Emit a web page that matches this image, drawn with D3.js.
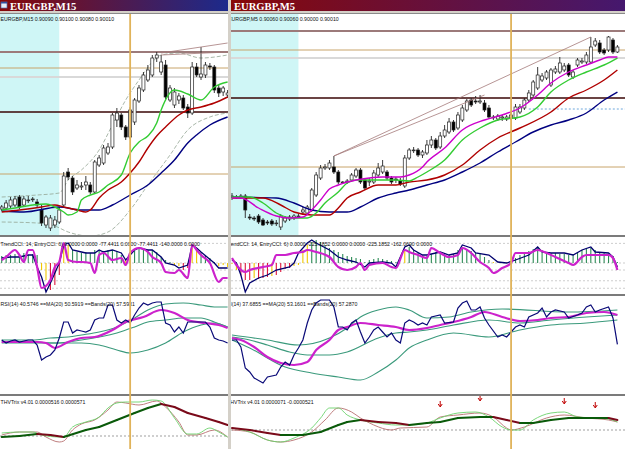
<!DOCTYPE html>
<html><head><meta charset="utf-8">
<script src="https://cdn.jsdelivr.net/npm/d3@7"></script>
<style>body{margin:0;background:#fff}svg{display:block}</style>
</head><body>
<svg id="c" width="625" height="449"></svg>
<script>
// ---------------- DATA ----------------
// candles: [open, high, low, close] in points (price * 1e5)
const m15Candles = [[89991,89995,89989,89993],[89992,90000,89990,89997],[89994,90003,89992,90000],[89995,90004,89993,90001],[90003,90005,89991,89993],[89995,90004,89993,90001],[90000,90004,89997,90000],[90001,90003,89998,90001],[89998,90001,89993,89995],[89990,89995,89974,89977],[89975,89985,89972,89983],[89972,89985,89969,89982],[89975,89984,89972,89980],[89978,89993,89976,89990],[89995,90028,89993,90024],[90028,90032,90020,90023],[90022,90024,90005,90008],[90012,90020,90010,90015],[90013,90018,90010,90014],[90015,90024,90010,90018],[90015,90018,90006,90008],[90008,90040,90006,90038],[90035,90045,90033,90042],[90037,90055,90035,90052],[90047,90057,90045,90053],[90053,90087,90051,90085],[90080,90092,90073,90087],[90085,90087,90070,90073],[90073,90075,90060,90063],[90063,90093,90061,90090],[90078,90102,90075,90100],[90099,90115,90097,90112],[90110,90128,90108,90125],[90120,90135,90118,90130],[90125,90145,90123,90142],[90142,90148,90138,90145],[90128,90145,90125,90138],[90135,90140,90101,90103],[90100,90115,90098,90112],[90095,90112,90092,90108],[90100,90107,90096,90104],[90102,90105,90090,90092],[90093,90096,90082,90087],[90087,90138,90085,90133],[90133,90137,90123,90125],[90123,90153,90120,90126],[90125,90138,90122,90135],[90134,90137,90130,90133],[90133,90135,90107,90110],[90112,90115,90103,90107],[90108,90114,90104,90112],[90105,90110,90102,90107]];
const m5Candles = [[89903,89907,89900,89904],[89903,89905,89901,89903],[89903,89906,89901,89904],[89904,89906,89882,89890],[89883,89886,89880,89882],[89882,89884,89879,89881],[89884,89886,89876,89878],[89880,89882,89874,89875],[89878,89880,89875,89877],[89879,89881,89874,89876],[89877,89880,89874,89877],[89873,89886,89870,89884],[89879,89884,89877,89882],[89881,89885,89879,89883],[89882,89886,89880,89884],[89884,89886,89882,89884],[89888,89893,89886,89890],[89887,89895,89885,89893],[89890,89912,89888,89910],[89905,89928,89903,89925],[89922,89935,89920,89932],[89932,89936,89930,89933],[89932,89940,89930,89937],[89933,89944,89926,89928],[89928,89930,89916,89918],[89918,89919,89917,89918],[89918,89921,89916,89919],[89920,89927,89918,89925],[89924,89932,89922,89930],[89930,89932,89916,89918],[89920,89922,89910,89912],[89918,89922,89914,89919],[89918,89930,89916,89927],[89925,89937,89923,89932],[89928,89940,89926,89934],[89928,89930,89920,89922],[89922,89924,89916,89918],[89921,89923,89917,89920],[89919,89922,89914,89916],[89914,89945,89912,89942],[89942,89952,89940,89950],[89950,89953,89947,89950],[89950,89952,89943,89945],[89945,89950,89942,89948],[89947,89960,89945,89955],[89955,89964,89952,89960],[89960,89962,89950,89952],[89953,89968,89951,89964],[89964,89975,89962,89970],[89968,89982,89966,89978],[89978,89980,89968,89970],[89972,89988,89970,89985],[89980,89995,89978,89992],[89990,90001,89988,89999],[90000,90002,89993,89995],[89999,90004,89996,89998],[89998,90005,89996,89999],[89997,90000,89988,89990],[89992,89995,89981,89983],[89983,89985,89980,89983],[89981,89986,89979,89984],[89982,89985,89979,89983],[89981,89985,89979,89983],[89982,89988,89980,89985],[89982,89996,89980,89993],[89988,89996,89986,89993],[89992,90002,89990,90000],[90000,90010,89998,90007],[90005,90020,90003,90018],[90012,90033,90010,90025],[90020,90027,90018,90024],[90022,90030,90020,90028],[90015,90032,90013,90030],[90028,90034,90026,90031],[90028,90043,90026,90037],[90030,90037,90028,90034],[90035,90037,90023,90025],[90023,90030,90021,90028],[90035,90042,90033,90040],[90038,90042,90036,90039],[90038,90048,90036,90045],[90038,90063,90036,90053],[90055,90062,90053,90059],[90057,90060,90046,90048],[90050,90052,90045,90047],[90050,90064,90048,90063],[90060,90062,90046,90048],[90048,90055,90047,90053]];

const levelKinds = ["high","upper","mid","low","lower"];
const m15Levels = [90148, 90132, 90123, 90088, 90026];
const m5Levels = [90069, 90050, 90042, 90002, 89933];
const m5DottedLevel = [67, 89991];

const m15Green = [[0,89990],[3,89992],[7,89995],[10,89996],[12,89993],[14,89988],[15,89985],[17,89988],[18,90000],[20,90005],[22,90008],[24,90015],[27,90025],[29,90047],[31,90058],[33,90064],[35,90077],[36,90090],[39,90110],[42,90106],[45,90100],[48,90113],[51,90118]];
const m15Red = [[0,89988],[4,89990],[9,89993],[12,89995],[14,89993],[17,89990],[19,89988],[20,89990],[22,90002],[24,90010],[27,90018],[29,90027],[31,90038],[33,90052],[35,90064],[37,90073],[40,90085],[42,90090],[45,90093],[48,90097],[51,90103]];
const m15Navy = [[0,89989],[5,89988],[13,89993],[18,89990],[22,89990],[25,89995],[29,90005],[33,90015],[36,90027],[39,90040],[42,90057],[44,90065],[47,90075],[51,90083]];
const m15UpperBand = [[0,90003],[8,90005],[13,90007],[15,90020],[18,90030],[22,90050],[25,90075],[28,90100],[31,90120],[34,90138],[36,90145],[40,90147],[45,90142],[51,90145]];
const m15LowerBand = [[0,89978],[8,89977],[12,89974],[15,89968],[20,89964],[24,89968],[29,89990],[33,90015],[38,90045],[42,90070],[47,90083],[51,90087]];
const m15Trend = [[[36,90147],[51,90157]],[[36,90145],[51,90148]]];

const m5Magenta = [[0,89902],[2,89902],[6,89892],[10,89884],[13,89882],[16,89883],[18,89890],[20,89900],[22,89911],[24,89915],[28,89920],[31,89922],[34,89923],[38,89923],[40,89925],[43,89933],[44,89938],[48,89952],[52,89970],[57,89980],[61,89985],[65,89992],[69,90005],[72,90017],[76,90028],[80,90035],[83,90040],[85,90043],[87,90043]];
const m5Green = [[0,89903],[4,89903],[7,89897],[10,89887],[14,89882],[17,89882],[19,89887],[21,89897],[24,89908],[26,89917],[28,89920],[31,89920],[34,89920],[37,89920],[40,89919],[42,89923],[44,89928],[48,89940],[52,89960],[56,89972],[60,89980],[65,89983],[69,89993],[72,90008],[76,90020],[80,90028],[84,90035],[87,90042]];
const m5Red = [[0,89902],[7,89902],[11,89895],[14,89888],[18,89885],[22,89885],[24,89892],[26,89902],[29,89908],[33,89915],[37,89915],[40,89918],[44,89920],[48,89925],[52,89935],[56,89950],[60,89962],[65,89972],[72,89988],[76,90002],[80,90010],[84,90020],[87,90030]];
const m5Navy = [[0,89903],[10,89902],[14,89897],[18,89890],[22,89888],[26,89888],[29,89893],[33,89902],[37,89907],[40,89910],[44,89915],[48,89920],[52,89928],[56,89937],[60,89948],[64,89958],[68,89968],[72,89975],[76,89980],[80,89987],[84,90000],[87,90008]];
const m5Trend = [[[23,89944],[81,90063]],[[23,89944],[57,90005]]];

const cciLevels = [157, 0, -56, -142, -202];
const m15CciHist = [56,64,64,72,72,80,64,72,64,-56,-136,-216,-176,-96,160,144,104,88,80,88,80,104,104,96,104,104,88,64,24,64,104,120,112,104,104,88,48,24,8,-16,-24,-56,-40,120,104,88,64,40,8,-24,-16,-32];
const m15CciState = [1,1,1,1,1,1,1,1,1,0,0,-1,-1,-1,0,0,1,1,1,1,1,1,1,1,1,1,1,1,0,1,1,1,1,1,1,1,1,1,1,0,0,-1,-1,0,0,1,1,1,1,0,0,0];
const m15TrendCci = [[0,40],[2,48],[4,48],[6,64],[7,64],[8,-32],[9,-112],[10,-232],[11,-160],[12,-80],[13,0],[14,144],[15,160],[16,104],[18,88],[19,80],[21,80],[22,104],[23,88],[25,104],[27,80],[28,24],[30,104],[31,120],[33,104],[34,104],[36,48],[37,0],[39,-16],[40,-40],[42,-16],[43,144],[44,120],[45,88],[48,0],[49,-40],[51,-40]];
const m15EntryCci = [[0,24],[1,48],[3,104],[4,64],[5,8],[6,104],[7,104],[8,-32],[9,-200],[11,-136],[12,-32],[13,8],[14,160],[15,24],[17,8],[18,8],[20,0],[21,-80],[22,64],[23,80],[25,24],[27,40],[28,-16],[29,80],[31,120],[33,88],[34,48],[36,0],[37,-72],[39,-80],[40,-56],[42,-120],[43,144],[44,104],[45,64],[47,0],[49,-152],[50,-120],[51,-120]];
const m5CciHist = [-8,-56,-100,-136,-136,-120,-128,-120,-112,-104,-96,-72,-48,-40,-24,-16,104,144,168,184,168,144,120,104,88,72,56,48,40,32,8,24,32,40,32,24,16,8,0,104,128,104,80,64,56,72,88,88,72,64,72,104,120,112,96,80,72,48,24,8,0,0,8,16,40,64,80,96,112,120,104,88,80,80,72,72,64,72,88,104,112,120,104,88,80,72,56,8];
const m5CciState = [0,0,-1,-1,-1,0,-1,-1,-1,0,-1,-1,-1,-1,0,0,0,0,1,1,1,1,1,1,1,1,1,1,1,1,1,1,1,1,1,1,1,1,1,0,1,1,1,1,1,1,1,1,1,1,1,1,1,1,1,1,1,1,1,0,0,0,0,1,1,1,1,1,1,1,1,1,1,1,1,1,1,1,1,1,1,1,1,1,1,1,1,1];
const m5TrendCci = [[0,24],[1,0],[2,-96],[3,-232],[4,-160],[6,-120],[8,-96],[10,-56],[13,-32],[14,0],[15,80],[17,160],[18,184],[19,160],[22,104],[24,48],[26,24],[28,8],[30,-32],[31,0],[34,8],[36,0],[37,-32],[39,128],[40,144],[41,104],[43,64],[44,64],[47,88],[49,64],[51,80],[52,144],[54,120],[55,80],[58,64],[60,8],[62,0],[64,24],[67,64],[69,128],[70,88],[72,80],[75,80],[77,64],[79,104],[81,128],[82,88],[85,80],[86,48],[87,-32]];
const m5EntryCci = [[0,40],[1,-16],[3,-72],[4,-56],[7,-32],[9,-16],[10,64],[12,64],[14,80],[16,88],[17,104],[19,88],[22,48],[24,-32],[26,-56],[28,-32],[29,0],[30,-56],[31,-16],[34,0],[36,-32],[37,-40],[39,104],[40,88],[42,64],[44,40],[45,120],[47,80],[49,48],[51,64],[52,120],[54,80],[56,8],[58,-40],[59,-80],[61,-40],[63,0],[64,80],[67,80],[69,104],[71,80],[73,48],[76,0],[77,-16],[79,48],[80,64],[82,64],[85,64],[86,40],[87,-56]];

const m15Rsi = [42,39.9,41.3,42,40.6,41.3,42,42,38.5,28,30.1,31.5,35,43.4,54.6,54.6,46.9,49,48.3,47.6,49,56,57.4,57.4,66.5,66.5,56,53.9,56,53.9,59.5,64.4,67.9,66.5,67.9,68.6,68.6,53.9,52.5,47.6,51.1,46.9,54.6,54.6,54.6,54.6,54.6,51.1,43.4,42,41.3,39.9];
const m15RsiMa = [[0,40.6],[4,40.6],[8,40.6],[10,39.9],[12,36.4],[15,40.6],[18,43.4],[21,44.1],[25,49],[28,54.6],[32,58.1],[36,63],[39,60.9],[42,56],[46,53.9],[49,52.5],[51,50.4]];
const m15BandUp = [[0,42],[7,42],[11,43.4],[15,44.1],[18,45.5],[22,47.6],[26,51.1],[30,57.4],[33,63],[37,67.2],[41,67.9],[45,66.5],[48,65.1],[51,65.1]];
const m15BandMid = [[0,40.6],[7,40.6],[12,39.9],[18,42],[26,46.9],[30,51.1],[33,54.6],[37,56],[41,57.4],[45,57.4],[48,54.6],[51,51.1]];
const m15BandLow = [[0,39.9],[7,39.9],[12,39.9],[18,39.9],[22,38.5],[26,35],[29,32.9],[33,35],[37,39.9],[41,47.6],[45,52.5],[48,53.9],[51,51.1]];
const m5Rsi = [[0,42],[1,42],[2,37.1],[3,22.4],[4,19.6],[5,15.4],[7,11.9],[8,16.1],[10,17.5],[11,23.1],[12,26.6],[13,24.5],[14,31.5],[15,36.4],[16,42],[17,53.9],[18,63],[19,67.9],[20,70],[22,70],[23,65.1],[24,51.1],[25,51.1],[26,49],[27,53.9],[28,56],[29,47.6],[30,39.9],[31,44.1],[32,49],[33,51.1],[34,47.6],[35,44.1],[36,46.9],[37,42],[38,39.9],[39,53.9],[40,56],[41,54.6],[42,52.5],[43,53.9],[44,52.5],[45,58.1],[47,59.5],[48,53.9],[50,54.6],[51,64.4],[52,67.9],[53,69.3],[54,63],[55,63],[56,65.1],[57,57.4],[58,52.5],[60,44.1],[61,45.5],[62,44.1],[64,51.1],[65,52.5],[66,51.1],[67,58.1],[69,60.9],[70,64.4],[71,58.1],[72,61.6],[73,63],[75,61.6],[76,57.4],[78,59.5],[79,60.9],[80,65.1],[81,66.5],[82,61.6],[83,63],[85,65.1],[86,57.4],[87,39]];
const m5RsiMa = [[0,43.4],[2,42],[5,37.1],[8,30.1],[11,25.9],[14,24.5],[17,26.6],[19,35],[22,42],[24,49],[26,51.1],[29,53.9],[33,52.5],[37,51.1],[40,49],[44,50.4],[47,52.5],[50,54.6],[54,58.1],[57,61.6],[61,58.1],[65,55.3],[69,56],[72,57.4],[76,58.1],[80,60.9],[84,61.6],[87,59.5]];
const m5BandUp = [[0,45.5],[8,42],[15,38.5],[22,43.4],[26,50.4],[29,58.1],[33,63],[37,65.1],[40,63],[44,57.4],[49,58.1],[54,61.6],[61,63.7],[76,61.6],[87,63]];
const m5BandMid = [[0,44.1],[4,42],[8,38.5],[13,33.6],[17,31.5],[22,31.5],[26,33.6],[33,43.4],[37,46.9],[40,47.6],[44,49],[50,52.5],[58,56],[65,53.9],[72,56],[80,58.1],[87,59.5]];
const m5BandLow = [[0,42],[4,36.4],[12,23.1],[18,18.9],[24,16.1],[29,14],[33,19.6],[37,28],[40,36.4],[44,42],[50,46.9],[58,44.1],[65,49],[72,52.5],[80,53.9],[87,56]];

const m15Trix = [[0,-2],[4,0],[8,4],[11,2],[14,-2],[19,12],[22,18],[26,32],[30,46],[33,56],[36,64],[39,58],[42,46],[46,36],[49,28],[51,22]];
const m15TrixFast = [[0,6],[4,8],[7,8],[9,2],[13,-2],[14,-2],[16,18],[19,28],[22,38],[24,56],[26,66],[28,68],[31,68],[34,72],[36,70],[39,36],[42,4],[44,4],[47,16],[49,8],[51,-2]];
const m15TrixSlow = [[0,2],[4,8],[8,8],[10,-2],[13,-12],[14,-10],[16,12],[18,24],[21,32],[24,52],[26,68],[28,66],[31,62],[35,70],[37,58],[40,28],[42,2],[44,2],[48,12],[51,-2]];
const m5Trix = [[0,4],[4,0],[8,-6],[11,-10],[16,-10],[20,-4],[24,10],[26,16],[29,20],[33,16],[37,14],[40,10],[44,14],[47,16],[51,24],[56,26],[59,26],[62,20],[65,14],[68,14],[72,20],[76,24],[80,24],[85,24],[87,20]];
const m5TrixFast = [[0,4],[4,-4],[8,-20],[11,-24],[14,-16],[18,4],[20,24],[22,44],[24,44],[26,30],[29,20],[33,14],[37,10],[40,10],[44,14],[47,24],[51,34],[55,36],[58,26],[61,6],[63,0],[65,0],[68,20],[72,34],[75,36],[78,26],[82,24],[85,22],[87,16]];
const m5TrixSlow = [[0,0],[4,-4],[8,-20],[11,-24],[14,-20],[18,-4],[21,20],[24,44],[27,36],[29,24],[32,10],[36,0],[38,4],[44,6],[47,26],[51,30],[56,34],[59,26],[62,4],[63,0],[66,6],[71,24],[75,30],[80,24],[85,20],[87,16]];
const m5TrixArrows = [[47,50],[56,62],[75,56],[82,48]];

const m15Title = "EURGBP,M15", m5Title = "EURGBP,M5";
const m15Header = "EURGBP,M15  0.90090 0.90100 0.90080 0.90010";
const m5Header = "EURGBP,M5  0.90060 0.90060 0.90000 0.90010";
const m15CciText = "TrendCCI: 14, EntryCCI: 6) 0.0000 0.0000 -77.4411 0.0000 -77.4411 -140.0000 0.0000";
const m5CciText = "TrendCCI: 14, EntryCCI: 6) 0.0000 -225.1852 0.0000 0.0000 -225.1852 -162.0690 0.0000";
const m15RsiText = "RSI(14) 40.5746  ==MA(20) 50.5919  ==Bands(20) 57.5931";
const m5RsiText = "RSI(14) 37.6855  ==MA(20) 53.1601  ==Bands(20) 57.2870";
const m15TrixText = "THVTrix v4.01 0.0000516 0.0000571";
const m5TrixText = "THVTrix v4.01 0.0000071 -0.0000521";

// ---------------- DRAW ----------------
const svg = d3.select("#c");
const defs = svg.append("defs");
const Y = {main:[14,235], cci:[237,294], rsi:[296,394], trix:[396,449]};
const levelStyle = {
  high:{c:"#9c7a7a", w:2}, upper:{c:"#c8a46a", w:1}, mid:{c:"#d9d9d9", w:2},
  low:{c:"#3a0606", w:1.4}, lower:{c:"#c8a46a", w:1}
};
const stateColor = d3.scaleOrdinal().domain([1,0,-1]).range(["#2e8b57","#f0c800","#dc143c"]);

function panel(P){
  const g = svg.append("g");
  const x = d3.scaleLinear().domain([0, P.candles.length-1]).range(P.xr);
  const yM = d3.scaleLinear().domain(P.pDomain).range(Y.main);
  const yC = d3.scaleLinear().domain([0,100]).range([263, 250.5]);
  const yR = d3.scaleLinear().domain([0,70]).range([400,300]);
  const yT = d3.scaleLinear().domain([0,10]).range([P.trixZero, P.trixZero-5]);
  const W = P.x1 - P.x0;
  function clip(k){
    const id = "cl"+P.id+k;
    defs.append("clipPath").attr("id",id).append("rect")
      .attr("x",P.x0).attr("y",Y[k][0]).attr("width",W).attr("height",Y[k][1]-Y[k][0]);
    return g.append("g").attr("clip-path","url(#"+id+")");
  }
  const gid = "tg"+P.id;
  const lg = defs.append("linearGradient").attr("id",gid);
  lg.append("stop").attr("offset","0%").attr("stop-color","#880808");
  lg.append("stop").attr("offset","100%").attr("stop-color",P.titleEnd);
  g.append("rect").attr("x",P.x0).attr("y",0).attr("width",W).attr("height",11).attr("fill","url(#"+gid+")");
  g.append("rect").attr("x",P.x0).attr("y",11).attr("width",W).attr("height",2).attr("fill","#d4d0c8");
  g.append("rect").attr("x",P.x0).attr("y",13).attr("width",W).attr("height",1).attr("fill","#8a8a8a");
  if (P.icon){
    g.append("rect").attr("x",P.x0+1).attr("y",2).attr("width",6).attr("height",6).attr("fill","#e8eef8").attr("stroke","#5070b0").attr("stroke-width",0.7);
    g.append("rect").attr("x",P.x0+1).attr("y",2).attr("width",6).attr("height",1.5).attr("fill","#3050a0");
  }
  g.append("text").attr("x",P.x0+P.titleX).attr("y",9.6).text(P.title)
    .attr("font-family","Liberation Serif").attr("font-weight","bold").attr("font-size",10.6).attr("fill","#fff");

  const lineC = (xs, ys, curve) => d3.line().x(d=>xs(d[0])).y(d=>ys(d[1])).curve(curve||d3.curveLinear);

  const gm = clip("main");
  gm.append("rect").attr("x",P.x0).attr("y",Y.main[0]).attr("width",W).attr("height",Y.main[1]-Y.main[0]).attr("fill","#fff");
  gm.append("rect").attr("x",P.x0).attr("y",Y.main[0]).attr("width",x(P.session)-P.x0).attr("height",Y.main[1]-Y.main[0]).attr("fill","#cff6f6");
  P.levels.forEach((v,i)=>{
    const s = levelStyle[levelKinds[i]];
    gm.append("line").attr("x1",P.x0).attr("x2",P.x1).attr("y1",yM(v)).attr("y2",yM(v)).attr("stroke",s.c).attr("stroke-width",s.w);
  });
  if (P.dotted){
    gm.append("line").attr("x1",x(P.dotted[0])).attr("x2",P.x1).attr("y1",yM(P.dotted[1])).attr("y2",yM(P.dotted[1]))
      .attr("stroke","#6fa8dc").attr("stroke-width",1).attr("stroke-dasharray","2,2");
  }
  (P.bands||[]).forEach(b=>{
    gm.append("path").attr("d",lineC(x,yM,d3.curveMonotoneX)(b)).attr("fill","none").attr("stroke","#93a593").attr("stroke-width",0.8).attr("stroke-dasharray","4,2");
  });
  const cg = gm.append("g");
  P.candles.forEach((c,i)=>{
    const [o,h,l,cl] = c, cx = x(i), up = cl >= o;
    cg.append("line").attr("x1",cx).attr("x2",cx).attr("y1",yM(h)).attr("y2",yM(l)).attr("stroke","#222").attr("stroke-width",0.9);
    const top = yM(Math.max(o,cl)), bot = yM(Math.min(o,cl));
    cg.append("rect").attr("x",cx-1.5).attr("y",top).attr("width",3).attr("height",Math.max(0.8,bot-top))
      .attr("fill",up?"#fff":"#000").attr("stroke","#222").attr("stroke-width",0.7);
  });
  P.mas.forEach(m=>{
    gm.append("path").attr("d",lineC(x,yM,d3.curveMonotoneX)(m.d)).attr("fill","none").attr("stroke",m.c).attr("stroke-width",1.4);
  });
  P.trend.forEach(t=>{
    gm.append("path").attr("d",lineC(x,yM)(t)).attr("fill","none").attr("stroke","#a47a7a").attr("stroke-width",0.8);
  });
  gm.append("text").attr("x",P.x0+P.textShift.main).attr("y",20.5).text(P.header)
    .attr("font-family","Liberation Sans").attr("font-size",5.2).attr("fill","#111");

  const gc = clip("cci");
  gc.append("rect").attr("x",P.x0).attr("y",Y.cci[0]).attr("width",W).attr("height",Y.cci[1]-Y.cci[0]).attr("fill","#fff");
  cciLevels.forEach(v=>{
    gc.append("line").attr("x1",P.x0).attr("x2",P.x1).attr("y1",yC(v)).attr("y2",yC(v)).attr("stroke","#b8b8b8").attr("stroke-width",0.7).attr("stroke-dasharray","2,2");
  });
  P.cciHist.forEach((v,i)=>{
    gc.append("line").attr("x1",x(i)).attr("x2",x(i)).attr("y1",yC(0)).attr("y2",yC(v)).attr("stroke",stateColor(P.cciState[i])).attr("stroke-width",1.1);
  });
  gc.append("path").attr("d",lineC(x,yC)(P.trendCci)).attr("fill","none").attr("stroke","#00006e").attr("stroke-width",1.3);
  gc.append("path").attr("d",lineC(x,yC,d3.curveMonotoneX)(P.entryCci)).attr("fill","none").attr("stroke","#cc22cc").attr("stroke-width",2.2);
  gc.append("text").attr("x",P.x0+P.textShift.cci).attr("y",246).text(P.cciText)
    .attr("font-family","Liberation Sans").attr("font-size",5.2).attr("fill","#111");

  const gr = clip("rsi");
  gr.append("rect").attr("x",P.x0).attr("y",Y.rsi[0]).attr("width",W).attr("height",Y.rsi[1]-Y.rsi[0]).attr("fill","#fff");
  P.rsiBands.forEach(b=>{
    gr.append("path").attr("d",lineC(x,yR,d3.curveMonotoneX)(b)).attr("fill","none").attr("stroke","#3b9a7c").attr("stroke-width",1.1);
  });
  gr.append("path").attr("d",lineC(x,yR,d3.curveMonotoneX)(P.rsiMa)).attr("fill","none").attr("stroke","#cc22cc").attr("stroke-width",2.2);
  gr.append("path").attr("d",lineC(x,yR)(P.rsi)).attr("fill","none").attr("stroke","#0a0a78").attr("stroke-width",1.2);
  gr.append("text").attr("x",P.x0+P.textShift.rsi).attr("y",306).text(P.rsiText)
    .attr("font-family","Liberation Sans").attr("font-size",5.2).attr("fill","#111");

  const gt = clip("trix");
  gt.append("rect").attr("x",P.x0).attr("y",Y.trix[0]).attr("width",W).attr("height",Y.trix[1]-Y.trix[0]).attr("fill","#fff");
  gt.append("line").attr("x1",P.x0).attr("x2",P.x1).attr("y1",yT(0)).attr("y2",yT(0)).attr("stroke","#777").attr("stroke-width",0.7).attr("stroke-dasharray","2,2");
  gt.append("path").attr("d",lineC(x,yT,d3.curveMonotoneX)(P.trixSlow)).attr("fill","none").attr("stroke","#b87070").attr("stroke-width",0.9);
  gt.append("path").attr("d",lineC(x,yT,d3.curveMonotoneX)(P.trixFast)).attr("fill","none").attr("stroke","#6cd36c").attr("stroke-width",0.9);
  for (let k=0;k<P.trix.length-1;k++){
    const a=P.trix[k], b=P.trix[k+1];
    gt.append("path").attr("d",lineC(x,yT)([a,b])).attr("fill","none")
      .attr("stroke", b[1]>=a[1] ? "#0a5a0a" : "#7a0a1a").attr("stroke-width",2).attr("stroke-linecap","round");
  }
  (P.arrows||[]).forEach(a=>{
    const ax = x(a[0]), ay = yT(a[1]);
    gt.append("path").attr("d",`M${ax},${ay-4}V${ay+1}M${ax-2},${ay-1}L${ax},${ay+2}L${ax+2},${ay-1}`)
      .attr("fill","none").attr("stroke","#c00000").attr("stroke-width",1);
  });
  gt.append("text").attr("x",P.x0+P.textShift.trix).attr("y",404).text(P.trixText)
    .attr("font-family","Liberation Sans").attr("font-size",5.2).attr("fill","#111");

  [[235,237],[294,296],[394,396]].forEach(s=>{
    g.append("rect").attr("x",P.x0).attr("y",s[0]).attr("width",W).attr("height",s[1]-s[0]).attr("fill","#7b7b7b");
  });
  g.append("line").attr("x1",x(P.vline)).attr("x2",x(P.vline)).attr("y1",Y.main[0]).attr("y2",449)
    .attr("stroke","#e0b35a").attr("stroke-width",1.8);
}

panel({
  id:"L", x0:0, x1:228, xr:[1.7,227.6], pDomain:[90186,89965], candles:m15Candles,
  title:m15Title, titleX:10, icon:true, titleEnd:"#1c2a8c", header:m15Header,
  session:13, vline:29, levels:m15Levels, bands:[m15UpperBand,m15LowerBand],
  mas:[{d:m15Navy,c:"#000080"},{d:m15Red,c:"#b00000"},{d:m15Green,c:"#33cc33"}], trend:m15Trend,
  cciHist:m15CciHist, cciState:m15CciState, trendCci:m15TrendCci, entryCci:m15EntryCci, cciText:m15CciText,
  rsi:m15Rsi.map((v,i)=>[i,v]), rsiMa:m15RsiMa, rsiBands:[m15BandUp,m15BandMid,m15BandLow], rsiText:m15RsiText,
  trix:m15Trix, trixFast:m15TrixFast, trixSlow:m15TrixSlow, trixZero:436, trixText:m15TrixText,
  textShift:{main:0.5, cci:0.5, rsi:0.5, trix:0.5}
});
panel({
  id:"R", x0:231, x1:625, xr:[232,617.4], pDomain:[90086,89865], candles:m5Candles,
  title:m5Title, titleX:3, icon:false, titleEnd:"#45186e", header:m5Header,
  session:15, vline:63, levels:m5Levels, dotted:m5DottedLevel,
  mas:[{d:m5Navy,c:"#000080"},{d:m5Red,c:"#b00000"},{d:m5Green,c:"#33cc33"},{d:m5Magenta,c:"#cc00cc"}], trend:m5Trend,
  cciHist:m5CciHist, cciState:m5CciState, trendCci:m5TrendCci, entryCci:m5EntryCci, cciText:m5CciText,
  rsi:m5Rsi, rsiMa:m5RsiMa, rsiBands:[m5BandUp,m5BandMid,m5BandLow], rsiText:m5RsiText,
  trix:m5Trix, trixFast:m5TrixFast, trixSlow:m5TrixSlow, trixZero:430, trixText:m5TrixText, arrows:m5TrixArrows,
  textShift:{main:-3, cci:-5, rsi:-8, trix:-4}
});
svg.append("rect").attr("x",228).attr("y",0).attr("width",3).attr("height",449).attr("fill","#d4d0c8");
</script>
</body></html>
